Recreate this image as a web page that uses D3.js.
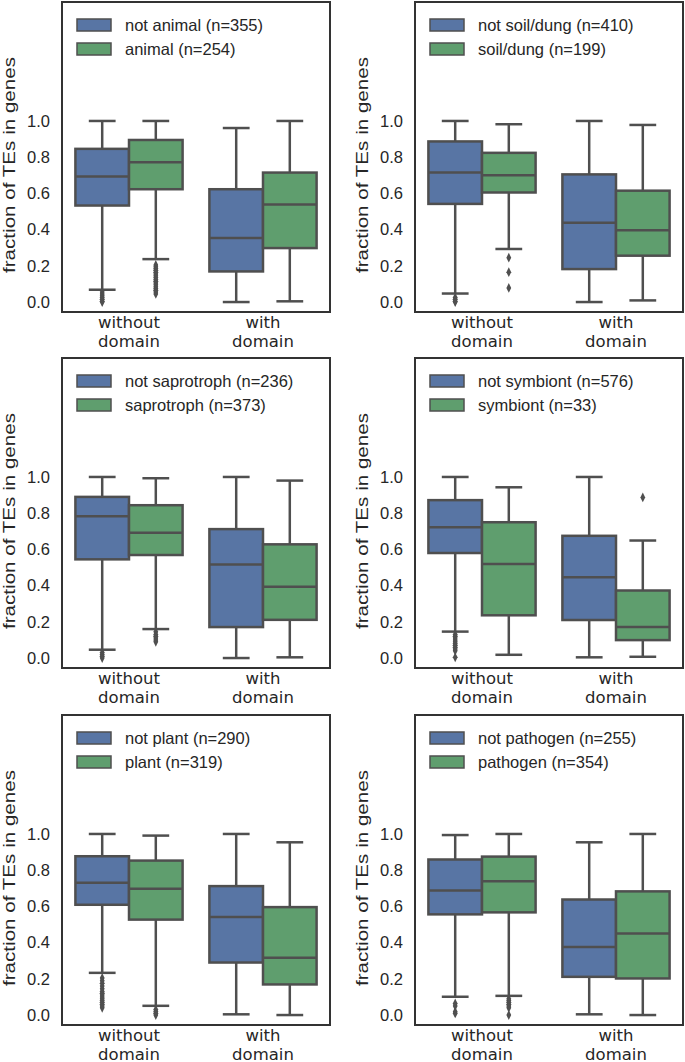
<!DOCTYPE html>
<html>
<head>
<meta charset="utf-8">
<script src="https://cdn.jsdelivr.net/npm/d3@7"></script>
<style>
html,body{margin:0;padding:0;background:#fff;}
svg text{font-family:"Liberation Sans",Arial,sans-serif;fill:#262626;}
</style>
</head>
<body>
<svg id="chart" width="685" height="1062"></svg>
<script>
// ---------- data ----------
const categories = ["without\ndomain", "with\ndomain"];
const yTicks = [0.0, 0.2, 0.4, 0.6, 0.8, 1.0];
const yLabel = "fraction of TEs in genes";

const legendAnimal = ["not animal (n=355)", "animal (n=254)"];
const legendSoil = ["not soil/dung (n=410)", "soil/dung (n=199)"];
const legendSaprotroph = ["not saprotroph (n=236)", "saprotroph (n=373)"];
const legendSymbiont = ["not symbiont (n=576)", "symbiont (n=33)"];
const legendPlant = ["not plant (n=290)", "plant (n=319)"];
const legendPathogen = ["not pathogen (n=255)", "pathogen (n=354)"];

// box stats: [whiskerLow, q1, median, q3, whiskerHigh]
// order: [without-not, without-yes, with-not, with-yes]
const statsAnimal = [
  [0.068, 0.533, 0.693, 0.846, 1.000],
  [0.237, 0.623, 0.772, 0.895, 1.000],
  [0.000, 0.169, 0.353, 0.623, 0.961],
  [0.004, 0.298, 0.539, 0.715, 1.000]
];
const fliersAnimal = [
  [0.055, 0.045, 0.035, 0.025, 0.015, 0.005, 0.0],
  [0.205, 0.195, 0.185, 0.175, 0.165, 0.155, 0.145, 0.135, 0.125, 0.115, 0.105, 0.095, 0.085, 0.075, 0.065, 0.055, 0.045],
  [], []
];
const statsSoil = [
  [0.047, 0.542, 0.715, 0.887, 1.000],
  [0.293, 0.605, 0.700, 0.824, 0.982],
  [0.000, 0.182, 0.438, 0.705, 1.000],
  [0.009, 0.256, 0.396, 0.615, 0.978]
];
const fliersSoil = [
  [0.025, 0.015, 0.005, 0.0],
  [0.245, 0.165, 0.078],
  [], []
];
const statsSaprotroph = [
  [0.046, 0.545, 0.783, 0.890, 1.000],
  [0.160, 0.569, 0.692, 0.844, 0.993],
  [0.000, 0.171, 0.517, 0.712, 1.000],
  [0.004, 0.211, 0.394, 0.628, 0.980]
];
const fliersSaprotroph = [
  [0.03, 0.02, 0.01, 0.0],
  [0.145, 0.13, 0.12, 0.11, 0.10, 0.09],
  [], []
];
const statsSymbiont = [
  [0.146, 0.580, 0.722, 0.872, 1.000],
  [0.018, 0.236, 0.519, 0.750, 0.943],
  [0.004, 0.210, 0.446, 0.675, 1.000],
  [0.007, 0.099, 0.172, 0.373, 0.649]
];
const fliersSymbiont = [
  [0.13, 0.12, 0.11, 0.10, 0.09, 0.08, 0.07, 0.06, 0.05, 0.04, 0.004],
  [],
  [],
  [0.887]
];
const statsPlant = [
  [0.233, 0.609, 0.730, 0.877, 1.000],
  [0.051, 0.527, 0.697, 0.853, 0.991],
  [0.004, 0.290, 0.541, 0.712, 1.000],
  [0.000, 0.169, 0.317, 0.596, 0.954]
];
const fliersPlant = [
  [0.205, 0.19, 0.175, 0.16, 0.145, 0.13, 0.12, 0.11, 0.10, 0.09, 0.08, 0.07, 0.06, 0.05, 0.04],
  [0.03, 0.02, 0.01, 0.0],
  [], []
];
const statsPathogen = [
  [0.101, 0.556, 0.688, 0.859, 0.994],
  [0.106, 0.567, 0.739, 0.875, 1.000],
  [0.004, 0.211, 0.376, 0.638, 0.954],
  [0.000, 0.202, 0.450, 0.683, 1.000]
];
const fliersPathogen = [
  [0.064, 0.05, 0.018, 0.009],
  [0.09, 0.08, 0.07, 0.06, 0.05, 0.04, 0.0],
  [], []
];

const panels = [
  {legend: legendAnimal, stats: statsAnimal, fliers: fliersAnimal},
  {legend: legendSoil, stats: statsSoil, fliers: fliersSoil},
  {legend: legendSaprotroph, stats: statsSaprotroph, fliers: fliersSaprotroph},
  {legend: legendSymbiont, stats: statsSymbiont, fliers: fliersSymbiont},
  {legend: legendPlant, stats: statsPlant, fliers: fliersPlant},
  {legend: legendPathogen, stats: statsPathogen, fliers: fliersPathogen}
];

// ---------- layout ----------
const colors = ["#5875a4", "#5f9e6e"];
const lineColor = "#4f4f4f";
const fontSize = 16.5;
const W = 268, H = 310;
const colX = [62, 415];
const rowY = [2, 358, 715];

const svg = d3.select("#chart");

panels.forEach((p, i) => {
  const ox = colX[i % 2], oy = rowY[Math.floor(i / 2)];
  const g = svg.append("g").attr("transform", `translate(${ox},${oy})`);

  const x = d3.scaleBand().domain(categories).range([0, W]);
  const hue = d3.scaleBand().domain([0, 1]).range([0, x.bandwidth() * 0.8]);
  const y = d3.scaleLinear().domain([-0.055, 1.657]).range([H, 0]);

  // y axis labels
  const yAxis = d3.axisLeft(y).tickValues(yTicks).tickFormat(d3.format(".1f")).tickSize(0).tickPadding(12);
  const ya = g.append("g").call(yAxis);
  ya.select(".domain").remove();
  ya.selectAll("text").style("font-size", fontSize + "px").attr("fill", "#262626")
    .style("font-family", "'Liberation Sans', Arial, sans-serif");

  // x axis labels
  const xa = g.append("g").attr("transform", `translate(0,${H})`)
    .call(d3.axisBottom(x).tickSize(0).tickFormat(""));
  xa.select(".domain").remove();
  xa.selectAll(".tick").each(function(d) {
    const t = d3.select(this).append("text")
      .attr("text-anchor", "middle")
      .style("font-family", "'DejaVu Sans', sans-serif")
      .style("font-size", fontSize + "px");
    d.split("\n").forEach((line, k) => {
      t.append("tspan").attr("x", 0).attr("y", 16 + k * 19).text(line);
    });
  });

  // y label
  g.append("text")
    .attr("transform", `translate(-53,${163}) rotate(-90)`)
    .attr("text-anchor", "middle")
    .attr("dominant-baseline", "central")
    .attr("textLength", 216)
    .attr("lengthAdjust", "spacingAndGlyphs")
    .style("font-size", "16.5px")
    .text(yLabel);

  // boxes
  p.stats.forEach((s, j) => {
    const cat = categories[Math.floor(j / 2)];
    const h = j % 2;
    const bx = x(cat) + x.bandwidth() * 0.1 + hue(h);
    const bw = hue.bandwidth();
    const cx = bx + bw / 2;
    const [lo, q1, med, q3, hi] = s;
    const bg = g.append("g");
    bg.append("line").attr("x1", cx).attr("x2", cx).attr("y1", y(q3)).attr("y2", y(hi))
      .attr("stroke", lineColor).attr("stroke-width", 2.5);
    bg.append("line").attr("x1", cx).attr("x2", cx).attr("y1", y(q1)).attr("y2", y(lo))
      .attr("stroke", lineColor).attr("stroke-width", 2.5);
    [lo, hi].forEach(v => {
      bg.append("line").attr("x1", cx - bw / 4).attr("x2", cx + bw / 4).attr("y1", y(v)).attr("y2", y(v))
        .attr("stroke", lineColor).attr("stroke-width", 2.5);
    });
    bg.append("rect").attr("x", bx).attr("y", y(q3)).attr("width", bw).attr("height", y(q1) - y(q3))
      .attr("fill", colors[h]).attr("stroke", lineColor).attr("stroke-width", 2.5);
    bg.append("line").attr("x1", bx).attr("x2", bx + bw).attr("y1", y(med)).attr("y2", y(med))
      .attr("stroke", lineColor).attr("stroke-width", 2.5);
    const diamond = d3.symbol().type(d3.symbolDiamond).size(28);
    bg.selectAll("path.flier").data(p.fliers[j]).join("path")
      .attr("class", "flier")
      .attr("d", diamond)
      .attr("transform", v => `translate(${cx},${y(v)}) scale(0.85,1)`)
      .attr("fill", lineColor);
  });

  // frame
  g.append("rect").attr("x", 0).attr("y", 0).attr("width", W).attr("height", H)
    .attr("fill", "none").attr("stroke", "#333").attr("stroke-width", 2);

  // legend
  const lg = g.append("g").attr("transform", "translate(15,15)");
  p.legend.forEach((txt, k) => {
    lg.append("rect").attr("x", 0).attr("y", 2 + k * 24).attr("width", 34).attr("height", 12)
      .attr("fill", colors[k]).attr("stroke", lineColor).attr("stroke-width", 1.5);
    lg.append("text").attr("x", 48).attr("y", 8 + k * 24)
      .attr("dominant-baseline", "central")
      .style("font-size", fontSize + "px")
      .text(txt);
  });
});
</script>
</body>
</html>
